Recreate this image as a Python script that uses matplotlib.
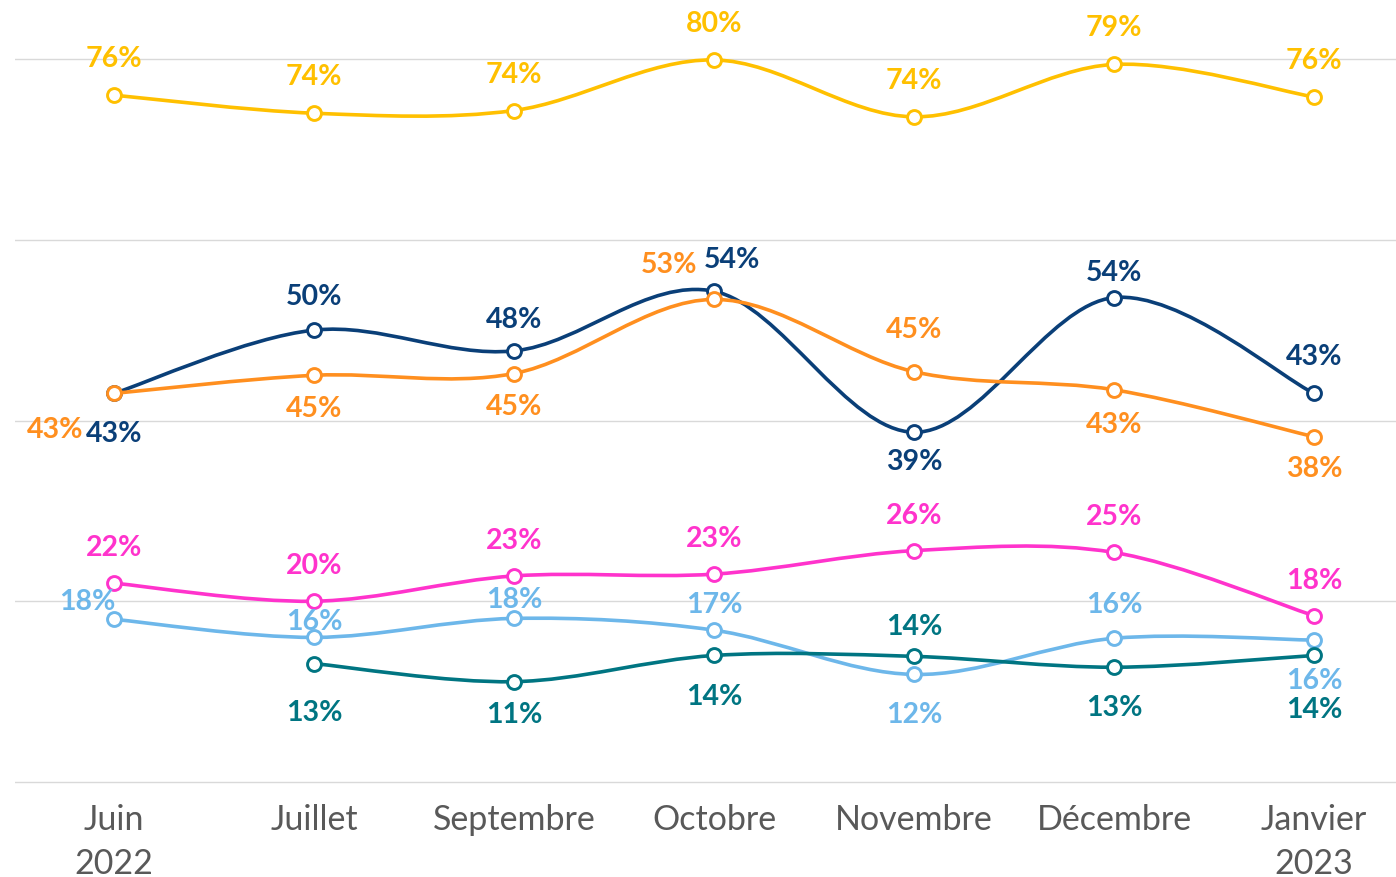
import matplotlib
matplotlib.use("Agg")
import matplotlib.pyplot as plt
from matplotlib.path import Path
from matplotlib.patches import PathPatch
import numpy as np

# ---------------- data ----------------
months = ["Juin\n2022", "Juillet", "Septembre", "Octobre", "Novembre", "Décembre", "Janvier\n2023"]

yellow_vals = [76.0, 74.0, 74.3, 79.9, 73.6, 79.4, 75.8]
navy_vals = [43.0, 50.0, 47.7, 54.3, 38.7, 53.6, 43.0]
orange_vals = [43.0, 45.0, 45.2, 53.4, 45.4, 43.4, 38.2]
magenta_vals = [22.0, 20.0, 22.8, 23.0, 25.6, 25.4, 18.4]
lightblue_vals = [18.0, 16.0, 18.1, 16.8, 11.9, 15.9, 15.7]
teal_vals = [None, 13.1, 11.1, 14.0, 13.9, 12.7, 14.0]

# ---------------- style ----------------
series = [
    ("yellow", yellow_vals, "#FFC000"),
    ("navy", navy_vals, "#0A3F78"),
    ("orange", orange_vals, "#FF8F1F"),
    ("magenta", magenta_vals, "#FF33CC"),
    ("lightblue", lightblue_vals, "#6DB7EA"),
    ("teal", teal_vals, "#007582"),
]

# label offsets in pixels (dx, dy) relative to each point
label_offsets = {
    "yellow": [(0, 37)] * 7,
    "navy": [(0, -40), (0, 34), (0, 32), (18, 32), (0, -29), (0, 26), (0, 37)],
    "orange": [(-59, -36), (0, -33), (0, -32), (-45, 35), (0, 43), (0, -34), (0, -31)],
    "magenta": [(0, 36)] * 7,
    "lightblue": [(-27, 18), (0, 16), (0, 19), (0, 26), (0, -40), (0, 34), (0, -40)],
    "teal": [None, (0, -48), (0, -32), (0, -41), (0, 30), (0, -40), (0, -54)],
}

W, H = 1396, 878
fig = plt.figure(figsize=(W / 100, H / 100), dpi=100)
px_per_unit = (783 - 60) / 80.0
ax_left, ax_right = 15, 1396
ax_bottom_px, ax_top_px = 785, 0
ax = fig.add_axes([ax_left / W, (H - ax_bottom_px) / H, (ax_right - ax_left) / W,
                   (ax_bottom_px - ax_top_px) / H])

ax.set_ylim(-2 / px_per_unit, 783 / px_per_unit)
ax.set_xlim((15 - 114) / 200.0, (1396 - 114) / 200.0)

for s in ax.spines.values():
    s.set_visible(False)
ax.set_yticks([0, 20, 40, 60, 80])
ax.set_yticklabels([])
ax.tick_params(axis="y", length=0)
ax.grid(axis="y", color="#D9D9D9", linewidth=1.0)
ax.set_axisbelow(True)

ax.set_xticks(range(len(months)))
ax.set_xticklabels(months, fontfamily="Lato", fontsize=24.5, color="#595959", linespacing=1.45)
ax.tick_params(axis="x", length=0, pad=14)


def smooth_path(xs, ys):
    pts = np.column_stack([xs, ys])
    n = len(pts)
    verts = [pts[0]]
    codes = [Path.MOVETO]
    for i in range(n - 1):
        p0 = pts[i - 1] if i > 0 else pts[i]
        p1 = pts[i]
        p2 = pts[i + 1]
        p3 = pts[i + 2] if i + 2 < n else pts[i + 1]
        c1 = p1 + (p2 - p0) / 6.0
        c2 = p2 - (p3 - p1) / 6.0
        verts += [c1, c2, p2]
        codes += [Path.CURVE4] * 3
    return Path(verts, codes)


z = 3
for name, vals, color in series:
    xs = [i for i, v in enumerate(vals) if v is not None]
    ys = [v for v in vals if v is not None]
    patch = PathPatch(smooth_path(np.array(xs, float), np.array(ys, float)),
                      facecolor="none", edgecolor=color, linewidth=2.6,
                      capstyle="round", joinstyle="round", zorder=z)
    ax.add_patch(patch)
    ax.plot(xs, ys, linestyle="none", marker="o", markersize=10,
            markerfacecolor="white", markeredgecolor=color, markeredgewidth=2.1,
            zorder=z + 0.5)
    offs = label_offsets[name]
    for i, v in enumerate(vals):
        if v is None:
            continue
        dx, dy = offs[i]
        ax.annotate(f"{int(round(v))}%", (i, v), xytext=(dx, dy), textcoords="offset pixels",
                    ha="center", va="center", fontfamily="Lato", fontweight="bold",
                    fontsize=20.5, color=color, zorder=10, annotation_clip=False)
    z += 1

fig.savefig("out.png", dpi=100)
